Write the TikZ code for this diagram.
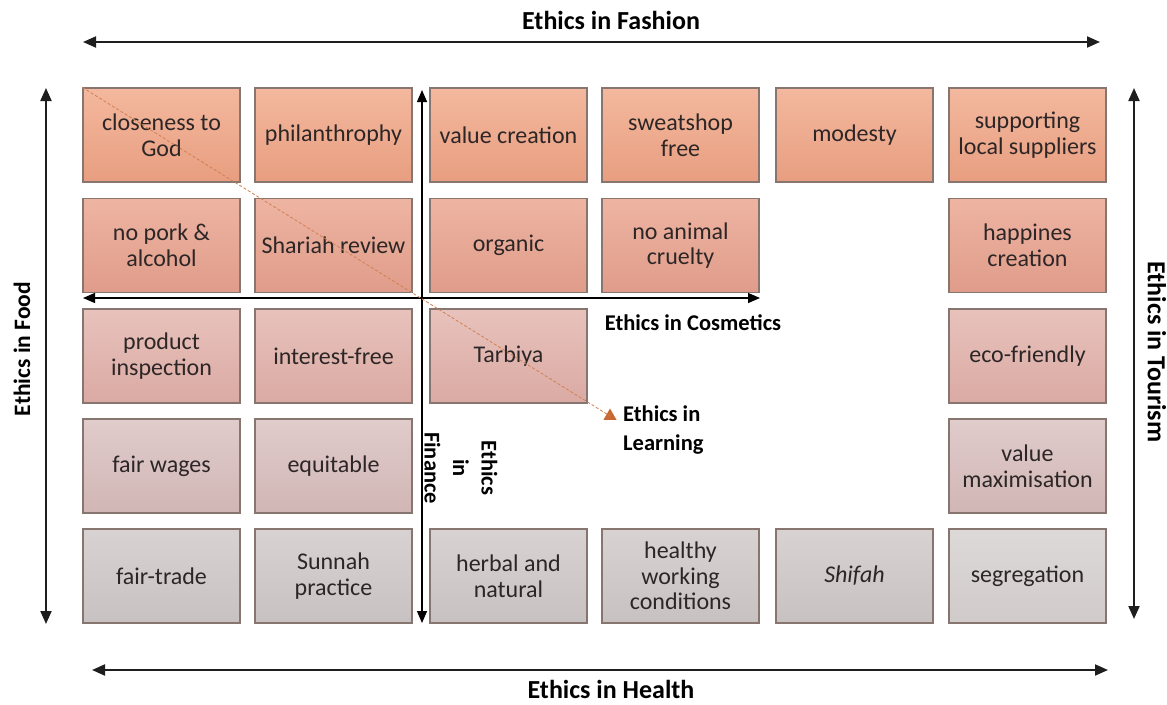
\documentclass[tikz,border=0pt]{standalone}
\usepackage{fontspec}
\setmainfont{Carlito}
\usetikzlibrary{arrows.meta,shapes.geometric}
\definecolor{txt}{RGB}{45,38,38}
\definecolor{bord}{RGB}{135,118,112}
\definecolor{axis}{RGB}{30,30,30}
\definecolor{learn}{RGB}{200,105,50}
\definecolor{rAt}{RGB}{243,184,158}\definecolor{rAb}{RGB}{232,158,128}
\definecolor{rBt}{RGB}{238,180,162}\definecolor{rBb}{RGB}{224,156,138}
\definecolor{rCt}{RGB}{232,194,188}\definecolor{rCb}{RGB}{218,170,163}
\definecolor{rDt}{RGB}{224,204,203}\definecolor{rDb}{RGB}{208,182,181}
\definecolor{rEt}{RGB}{216,210,210}\definecolor{rEb}{RGB}{200,193,193}
\tikzset{
  box/.style={draw=bord, line width=1.3pt, minimum width=157pt, minimum height=94pt,
    inner sep=0pt, align=center, text=txt, font=\fontsize{24}{25.5}\selectfont},
  rowA/.style={box, top color=rAt, bottom color=rAb},
  rowB/.style={box, top color=rBt, bottom color=rBb},
  rowC/.style={box, top color=rCt, bottom color=rCb},
  rowD/.style={box, top color=rDt, bottom color=rDb},
  rowE/.style={box, top color=rEt, bottom color=rEb},
  bigaxis/.style={draw=axis, line width=2pt, {Triangle[length=13pt,width=11pt]}-{Triangle[length=13pt,width=11pt]}},
  inaxis/.style={draw=black, line width=1.3pt, {Triangle[length=12pt,width=10pt]}-{Triangle[length=12pt,width=10pt]}},
  lbl/.style={font=\bfseries\fontsize{26}{28}\selectfont, text=black, inner sep=0pt, align=center},
  slbl/.style={font=\bfseries\fontsize{22.5}{28.5}\selectfont, text=black, inner sep=0pt},
}
\begin{document}
\begin{tikzpicture}[x=1pt,y=-1pt]
\useasboundingbox (0,0) rectangle (1167,704);
% row 1
\node[rowA] (a1) at (161.5,135) {closeness to\\God};
\node[rowA] (a2) at (333.5,135) {philanthrophy};
\node[rowA] (a3) at (508.5,135) {value creation};
\node[rowA] (a4) at (680.5,135) {sweatshop\\free};
\node[rowA] (a5) at (854.5,135) {modesty};
\node[rowA] (a6) at (1027.5,135) {supporting\\local suppliers};
% row 2
\node[rowB] (b1) at (161.5,245.5) {no pork \&\\alcohol};
\node[rowB] (b2) at (333.5,245.5) {Shariah review};
\node[rowB] (b3) at (508.5,245.5) {organic};
\node[rowB] (b4) at (680.5,245.5) {no animal\\cruelty};
\node[rowB] (b6) at (1027.5,245.5) {happines\\creation};
% row 3
\node[rowC] (c1) at (161.5,356) {product\\inspection};
\node[rowC] (c2) at (333.5,356) {interest-free};
\node[rowC] (c3) at (508.5,356) {Tarbiya};
\node[rowC] (c6) at (1027.5,356) {eco-friendly};
% row 4
\node[rowD] (d1) at (161.5,466) {fair wages};
\node[rowD] (d2) at (333.5,466) {equitable};
\node[rowD] (d6) at (1027.5,466) {value\\maximisation};
% row 5
\node[rowE] (e1) at (161.5,576) {fair-trade};
\node[rowE] (e2) at (333.5,576) {Sunnah\\practice};
\node[rowE] (e3) at (508.5,576) {herbal and\\natural};
\node[rowE] (e4) at (680.5,576) {healthy\\working\\conditions};
\node[rowE] (e5) at (854.5,576) {\itshape Shifah};
\node[box, top color=rEt!85!white, bottom color=rEb!85!white] (e6) at (1027.5,576) {segregation};

% outer axes
\coordinate (fashL) at (83,42); \coordinate (fashR) at (1100,42);
\draw[bigaxis] (fashL) -- (fashR);
\node[lbl] (fash) at (611,20) {Ethics in Fashion};
\coordinate (healL) at (92,670); \coordinate (healR) at (1108,670);
\draw[bigaxis] (healL) -- (healR);
\node[lbl] (heal) at (611,689) {Ethics in Health};
\coordinate (foodT) at (46,88); \coordinate (foodB) at (46,624);
\draw[bigaxis] (foodT) -- (foodB);
\node[lbl, rotate=90, font=\bfseries\fontsize{23.5}{28}\selectfont] (food) at (22,349) {Ethics in Food};
\coordinate (tourT) at (1134,88); \coordinate (tourB) at (1134,619);
\draw[bigaxis] (tourT) -- (tourB);
\node[lbl, rotate=-90] (tour) at (1157,352) {Ethics in Tourism};

% inner axes
\coordinate (cosL) at (83,298); \coordinate (cosR) at (760,298);
\draw[inaxis] (cosL) -- (cosR);
\node[slbl] (cos) at (693,323) {Ethics in Cosmetics};
\coordinate (finT) at (422,90); \coordinate (finB) at (422,623);
\draw[inaxis] (finT) -- (finB);
\node[slbl, rotate=-90, align=center] (fin) at (461,468) {Ethics\\in\\Finance};

% learning
\node[regular polygon, regular polygon sides=3, fill=learn, minimum size=15pt, inner sep=0pt] (tri) at (610,416) {};
\draw[learn!85!white, line width=0.8pt, dash pattern=on 3pt off 2pt] (a1.north west) -- (tri.center);
\node[slbl, align=left, anchor=west] (learnlbl) at (623,430) {Ethics in\\Learning};
\end{tikzpicture}
\end{document}
